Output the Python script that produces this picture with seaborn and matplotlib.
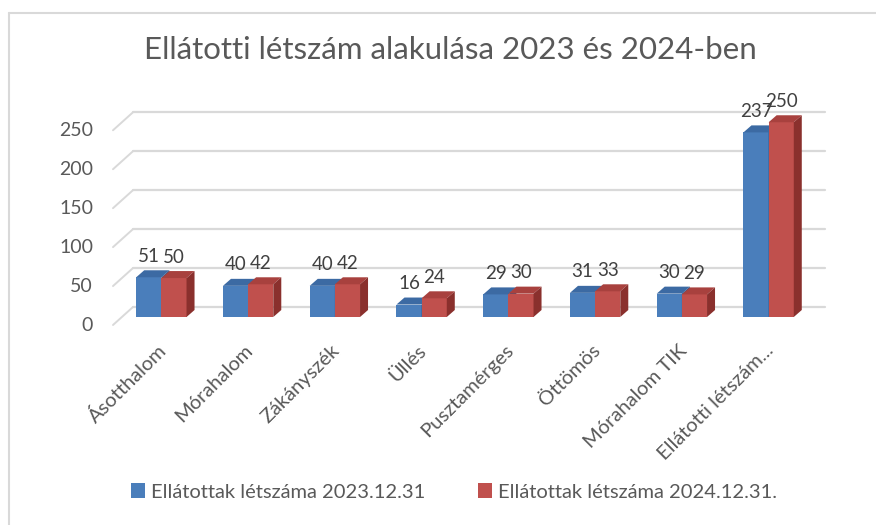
import matplotlib
matplotlib.use("Agg")
import matplotlib.pyplot as plt
import matplotlib.transforms as mtransforms
from matplotlib.patches import Polygon, Rectangle
from matplotlib.lines import Line2D
import pandas as pd
import seaborn as sns

# ----------------------------
# Data
# ----------------------------
categories = ["Ásotthalom", "Mórahalom", "Zákányszék", "Üllés", "Pusztamérges",
              "Öttömös", "Mórahalom TIK", "Ellátotti létszám..."]
series_names = ["Ellátottak létszáma 2023.12.31", "Ellátottak létszáma 2024.12.31."]
values_2023 = [51, 40, 40, 16, 29, 31, 30, 237]
values_2024 = [50, 42, 42, 24, 30, 33, 29, 250]
y_ticks = [0, 50, 100, 150, 200, 250]

front_colors = ["#4A7EBB", "#C0504D"]
top_colors = ["#3C6AA3", "#A8413E"]
side_colors = ["#2F5689", "#8A302D"]

df = pd.DataFrame({
    "category": categories * 2,
    "series": [series_names[0]] * len(categories) + [series_names[1]] * len(categories),
    "value": values_2023 + values_2024,
})

# ----------------------------
# Figure
# ----------------------------
sns.set_style("white")
plt.rcParams["font.family"] = ["Lato", "DejaVu Sans"]
text_grey = "#595959"

fig = plt.figure(figsize=(8.76, 5.25), dpi=100)
ax = fig.add_axes([118 / 876, (525 - 317) / 525, 694 / 876, 222 / 525])

# chart frame (left + top edge like the Excel screenshot)
fig.add_artist(Line2D([9 / 876, 9 / 876], [0, 1 - 13 / 525], transform=fig.transFigure,
                      color="#d9d9d9", lw=1.5))
fig.add_artist(Line2D([9 / 876, 1], [1 - 13 / 525, 1 - 13 / 525], transform=fig.transFigure,
                      color="#d9d9d9", lw=1.5))

sns.barplot(data=df, x="category", y="value", hue="series", order=categories,
            hue_order=series_names, palette=front_colors, width=0.58,
            saturation=1, linewidth=0, ax=ax, legend=True, zorder=3)

ax.set_xlim(-0.5, len(categories) - 0.5)
ax.set_ylim(0, 285)
for s in ax.spines.values():
    s.set_visible(False)
ax.set_xlabel("")
ax.set_ylabel("")


def px(dx, dy):
    return mtransforms.ScaledTranslation(dx / fig.dpi, dy / fig.dpi, fig.dpi_scale_trans)


# gridlines in 3D style: back wall line + diagonal to the front
grid_c = "#d9d9d9"
ytrans = ax.get_yaxis_transform()
back = px(15, 10)
for v in y_ticks:
    ax.add_line(Line2D([0, 1.0 - 2 / 694], [v, v], transform=ytrans + back,
                       color=grid_c, lw=1.6, zorder=1, clip_on=False))
    # diagonal from front to back wall
    p_front = (ytrans + px(-5, -8)).transform((0, v))
    p_back = (ytrans + back).transform((0, v))
    ax.add_line(Line2D([p_front[0], p_back[0]], [p_front[1], p_back[1]], transform=None,
                       color=grid_c, lw=1.4, zorder=1, clip_on=False))

# 3D top and side faces on each bar
fig.canvas.draw()
inv = ax.transData.inverted()
o = ax.transData.transform((0, 0))
d = inv.transform(o + [8, 7])
ddx, ddy = d[0] - inv.transform(o)[0], d[1] - inv.transform(o)[1]

for h, cont in enumerate(ax.containers):
    for bar in cont:
        x0 = bar.get_x()
        x1 = x0 + bar.get_width()
        top = bar.get_height()
        ax.add_patch(Polygon([(x0, top), (x1, top), (x1 + ddx, top + ddy), (x0 + ddx, top + ddy)],
                             closed=True, fc=top_colors[h], ec="none", zorder=3 + h))
        ax.add_patch(Polygon([(x1, 0), (x1, top), (x1 + ddx, top + ddy), (x1 + ddx, ddy)],
                             closed=True, fc=side_colors[h], ec="none", zorder=3 + h))
        bar.set_zorder(3 + h)
        ax.annotate(f"{top:.0f}", (bar.get_x() + bar.get_width() / 2, top),
                    xytext=(0, 21), textcoords="offset pixels", ha="center", va="center",
                    fontsize=13.5, color="#404040", zorder=10)

# axes ticks
ax.set_yticks(y_ticks)
ax.tick_params(axis="y", length=0, pad=18, labelsize=14, labelcolor=text_grey)
for lab in ax.get_yticklabels():
    lab.set_transform(lab.get_transform() + px(0, -7))
ax.set_xticks(range(len(categories)))
ax.set_xticklabels(categories, rotation=45, ha="right", rotation_mode="anchor")
ax.tick_params(axis="x", length=0, pad=12, labelsize=14.5, labelcolor=text_grey)
for lab in ax.get_xticklabels():
    lab.set_transform(lab.get_transform() + px(-4, -8))

# title
fig.text(450 / 876, 1 - 50 / 525, "Ellátotti létszám alakulása 2023 és 2024-ben",
         ha="center", va="center", fontsize=22.5, color=text_grey)

# legend
handles, labels = ax.get_legend_handles_labels()
ax.get_legend().remove()
handles = [Rectangle((0, 0), 1, 1, fc=c, ec="none") for c in front_colors]
fig.legend(handles, series_names, loc="center", bbox_to_anchor=(454 / 876, 1 - 492 / 525),
           ncol=2, frameon=False, fontsize=14.5, labelcolor=text_grey,
           handlelength=0.7, handleheight=0.7, handletextpad=0.3, columnspacing=2.6)

fig.savefig("out.png", dpi=100)
